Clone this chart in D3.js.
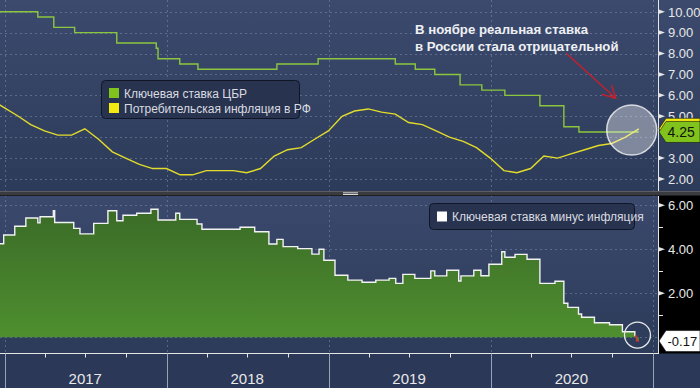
<!DOCTYPE html>
<html><head><meta charset="utf-8">
<script src="https://cdn.jsdelivr.net/npm/d3@7"></script>
<style>body{margin:0;background:#2b3858;overflow:hidden}svg{display:block}</style>
</head><body><svg id="c" width="700" height="388"></svg>
<script>
// ---------- DATA ----------
const keyRateDates = ["2016-12-20","2017-03-16","2017-04-21","2017-06-07","2017-09-10","2017-12-08","2017-12-12","2018-01-30","2018-03-12","2018-09-06","2018-12-08","2019-05-31","2019-07-15","2019-08-28","2019-10-24","2019-12-12","2020-02-02","2020-04-21","2020-06-14","2020-07-18"];
const keyRateValues = [10.00,9.75,9.25,9.00,8.50,8.25,7.75,7.50,7.25,7.50,7.75,7.50,7.25,7.00,6.50,6.25,6.00,5.50,4.50,4.25];
const seriesEnd = "2020-11-30";

const cpiMonths = ["2016-11","2016-12",
 "2017-01","2017-02","2017-03","2017-04","2017-05","2017-06","2017-07","2017-08","2017-09","2017-10","2017-11","2017-12",
 "2018-01","2018-02","2018-03","2018-04","2018-05","2018-06","2018-07","2018-08","2018-09","2018-10","2018-11","2018-12",
 "2019-01","2019-02","2019-03","2019-04","2019-05","2019-06","2019-07","2019-08","2019-09","2019-10","2019-11","2019-12",
 "2020-01","2020-02","2020-03","2020-04","2020-05","2020-06","2020-07","2020-08","2020-09","2020-10","2020-11"];
const cpiValues = [5.8,5.4,
 5.0,4.6,4.3,4.1,4.1,4.4,3.9,3.3,3.0,2.7,2.5,2.5,
 2.2,2.2,2.4,2.4,2.4,2.3,2.5,3.1,3.4,3.5,3.9,4.3,
 5.0,5.25,5.35,5.2,5.1,4.7,4.6,4.3,4.0,3.8,3.5,3.0,
 2.4,2.3,2.5,3.1,3.0,3.2,3.4,3.6,3.7,4.0,4.4];

const realDates = ["2016-12-20","2016-12-29","2017-01-23","2017-02-17","2017-03-16","2017-03-21","2017-04-20","2017-04-23","2017-06-05","2017-06-19","2017-07-20","2017-08-21","2017-09-10","2017-09-24","2017-10-25","2017-11-26","2017-12-12",
 "2018-01-21","2018-01-30","2018-03-10","2018-03-21","2018-06-15","2018-07-18","2018-08-19","2018-09-06","2018-09-20","2018-10-23","2018-11-24","2018-12-10","2018-12-21",
 "2019-01-15","2019-02-13","2019-03-17","2019-04-17","2019-05-17","2019-06-01","2019-06-17","2019-07-14","2019-08-19","2019-08-28","2019-09-24","2019-10-21","2019-10-26","2019-11-24","2019-12-10","2019-12-28",
 "2020-01-26","2020-02-02","2020-02-25","2020-03-23","2020-04-21","2020-05-25","2020-06-14","2020-06-23","2020-07-17","2020-07-24","2020-08-22","2020-09-25","2020-10-24","2020-11-21","2020-11-25"];
const realValues = [4.25,4.65,5.05,5.42,5.2,5.48,5.75,5.22,4.95,4.7,5.18,5.75,5.3,5.55,5.64,5.82,5.33,
 5.64,5.36,5.15,4.91,5.0,4.8,4.24,4.45,4.12,4.03,3.78,4.0,3.5,
 2.82,2.6,2.5,2.6,2.68,2.45,2.86,2.68,3.02,2.79,3.05,2.56,2.79,3.05,2.8,3.32,
 3.89,3.64,3.77,3.55,2.45,2.55,1.55,1.36,1.06,0.91,0.66,0.57,0.25,0.05,-0.17];

const yearLabels = ["2017","2018","2019","2020"];
const topTicks = [10,9,8,7,6,5,4,3,2];
const bottomTicks = [6,4,2];
const bottomMinor = [5,3,1];

const legendTop = ["Ключевая ставка ЦБР","Потребительская инфляция в РФ"];
const legendBottom = "Ключевая ставка минус инфляция";
const noteLines = ["В ноябре реальная ставка","в России стала отрицательной"];

// ---------- SETUP ----------
const parse = d3.utcParse("%Y-%m-%d");
const svg = d3.select("#c");
const W = 700, PR = 658;
const TOP0 = 0, TOP1 = 191, BOT0 = 196, BOT1 = 353.5;
const x = d3.scaleUtc().domain([parse("2017-01-01"), parse("2021-01-01")]).range([5, 653]);
const yTop = d3.scaleLinear().domain([2, 10]).range([179, 11.7]);
const yBot = d3.scaleLinear().domain([0, 6]).range([337.3, 205.3]);
const endDate = parse(seriesEnd);

const keyRate = keyRateDates.map((d,i)=>({d:parse(d), v:keyRateValues[i]}));
keyRate.push({d:endDate, v:keyRateValues[keyRateValues.length-1]});
const cpi = cpiMonths.map((m,i)=>({d:d3.utcDay.offset(d3.utcMonth.offset(parse(m+"-01"),1),-1), v:cpiValues[i]}));
const real = realDates.map((d,i)=>({d:parse(d), v:realValues[i]}));
real.push({d:endDate, v:realValues[realValues.length-1]});

const defs = svg.append("defs");
const g1 = defs.append("linearGradient").attr("id","bgTop").attr("x1",0).attr("y1",0).attr("x2",0).attr("y2",1);
g1.append("stop").attr("offset","0%").attr("stop-color","#3b4a6d");
g1.append("stop").attr("offset","100%").attr("stop-color","#2d3b5a");
const g2 = defs.append("linearGradient").attr("id","bgBot").attr("x1",0).attr("y1",0).attr("x2",0).attr("y2",1);
g2.append("stop").attr("offset","0%").attr("stop-color","#3a496c");
g2.append("stop").attr("offset","100%").attr("stop-color","#2d3b5a");
const g3 = defs.append("linearGradient").attr("id","greenFill").attr("gradientUnits","userSpaceOnUse")
  .attr("x1",0).attr("y1",yBot(6)).attr("x2",0).attr("y2",yBot(0));
g3.append("stop").attr("offset","0%").attr("stop-color","#3a6a27");
g3.append("stop").attr("offset","100%").attr("stop-color","#4f8f2f");
defs.append("clipPath").attr("id","clipTop").append("rect").attr("x",0).attr("y",TOP0).attr("width",PR).attr("height",TOP1-TOP0);
defs.append("clipPath").attr("id","clipBot").append("rect").attr("x",0).attr("y",BOT0).attr("width",PR).attr("height",BOT1-BOT0);

// backgrounds
svg.append("rect").attr("x",0).attr("y",0).attr("width",W).attr("height",388).attr("fill","#2b3858");
svg.append("rect").attr("x",0).attr("y",TOP0).attr("width",W).attr("height",TOP1-TOP0).attr("fill","url(#bgTop)");
svg.append("rect").attr("x",0).attr("y",BOT0).attr("width",PR).attr("height",BOT1-BOT0).attr("fill","url(#bgBot)");
svg.append("rect").attr("x",PR).attr("y",BOT0).attr("width",W-PR).attr("height",BOT1-BOT0).attr("fill","#000");
// separator
svg.append("rect").attr("x",0).attr("y",TOP1).attr("width",W).attr("height",BOT0-TOP1).attr("fill","#3a3b3e");
svg.append("line").attr("x1",0).attr("x2",W).attr("y1",TOP1+0.5).attr("y2",TOP1+0.5).attr("stroke","#5c5d60");
svg.append("line").attr("x1",0).attr("x2",W).attr("y1",BOT0-0.5).attr("y2",BOT0-0.5).attr("stroke","#1e1f22");
[192.8,194.5].forEach(yy=>svg.append("line").attr("x1",343).attr("x2",358).attr("y1",yy).attr("y2",yy).attr("stroke","#d8d8d8").attr("stroke-width",1));

// grid
const gridCol = "#7d8bab";
const years = [2017,2018,2019,2020,2021].map(y=>parse(y+"-01-01"));
const gTop = svg.append("g").attr("clip-path","url(#clipTop)");
const gBot = svg.append("g").attr("clip-path","url(#clipBot)");
gTop.selectAll(".hg").data(topTicks).join("line").attr("x1",0).attr("x2",PR)
  .attr("y1",d=>Math.round(yTop(d))+0.5).attr("y2",d=>Math.round(yTop(d))+0.5)
  .attr("stroke",gridCol).attr("stroke-opacity",0.55).attr("stroke-dasharray","2,3");
gBot.selectAll(".hg").data(bottomTicks.concat([0])).join("line").attr("x1",0).attr("x2",PR)
  .attr("y1",d=>Math.round(yBot(d))+0.5).attr("y2",d=>Math.round(yBot(d))+0.5)
  .attr("stroke",gridCol).attr("stroke-opacity",0.55).attr("stroke-dasharray","2,3");
[gTop,gBot].forEach(g=>g.selectAll(".vg").data(years).join("line")
  .attr("x1",d=>Math.round(x(d))+0.5).attr("x2",d=>Math.round(x(d))+0.5).attr("y1",0).attr("y2",388)
  .attr("stroke",gridCol).attr("stroke-opacity",0.55).attr("stroke-dasharray","2,3"));

// ---------- TOP PANEL ----------
gTop.append("path").datum(keyRate)
  .attr("d", d3.line().x(d=>x(d.d)).y(d=>yTop(d.v)).curve(d3.curveStepAfter))
  .attr("fill","none").attr("stroke","#8cc63e").attr("stroke-width",1.4);
gTop.append("path").datum(cpi)
  .attr("d", d3.line().x(d=>x(d.d)).y(d=>yTop(d.v)))
  .attr("fill","none").attr("stroke","#e3dc2a").attr("stroke-width",1.4);

// legend top
const lt = svg.append("g").attr("font-family","Liberation Sans, Arial, sans-serif").attr("font-size",12);
lt.append("rect").attr("x",101.5).attr("y",80.5).attr("width",198).attr("height",38).attr("rx",4)
  .attr("fill","#28334f").attr("stroke","#0e1628").attr("stroke-width",1);
const ltCols = ["#7fc31c","#f3ea11"];
legendTop.forEach((t,i)=>{
  lt.append("rect").attr("x",109).attr("y",88+i*15).attr("width",10).attr("height",10).attr("fill",ltCols[i]);
  lt.append("text").attr("x",124).attr("y",97.5+i*15).attr("fill","#d9dbe0").text(t);
});

// annotation
const note = svg.append("g").attr("font-family","Liberation Sans, Arial, sans-serif").attr("font-size",13.2).attr("font-weight","bold").attr("fill","#eef0f4");
noteLines.forEach((t,i)=>note.append("text").attr("x",415).attr("y",34+i*16.5).text(t));
const ax0 = x(parse("2020-06-20")), ay0 = yTop(8.0), ax1 = x(parse("2020-10-09")), ay1 = yTop(5.86);
const arr = svg.append("g").attr("stroke","#c3202e").attr("stroke-width",1.5).attr("fill","none");
arr.append("line").attr("x1",ax0).attr("y1",ay0).attr("x2",ax1).attr("y2",ay1);
arr.append("path").attr("d",`M${ax1-14},${ay1-4}L${ax1},${ay1}L${ax1-4},${ay1-13}`);

// highlight circle top
svg.append("circle").attr("cx",x(parse("2020-11-14"))).attr("cy",yTop(4.34)).attr("r",25)
  .attr("fill","#ffffff").attr("fill-opacity",0.38).attr("stroke","#ffffff").attr("stroke-opacity",0.75).attr("stroke-width",1.5);

// ---------- BOTTOM PANEL ----------
gBot.append("path").datum(real)
  .attr("d", d3.area().x(d=>x(d.d)).y0(yBot(0)).y1(d=>yBot(d.v)).curve(d3.curveStepAfter))
  .attr("fill","url(#greenFill)");
gBot.append("path").datum(real.slice(0,real.length-2))
  .attr("d", d3.line().x(d=>x(d.d)).y(d=>yBot(d.v)).curve(d3.curveStepAfter))
  .attr("fill","none").attr("stroke","#f2f2f2").attr("stroke-width",1.4);
gBot.append("path").datum(real.slice(real.length-3))
  .attr("d", d3.line().x(d=>x(d.d)).y(d=>yBot(d.v)).curve(d3.curveStepAfter))
  .attr("fill","none").attr("stroke","#d0303a").attr("stroke-width",1.4);

// legend bottom
const lb = svg.append("g").attr("font-family","Liberation Sans, Arial, sans-serif").attr("font-size",12);
lb.append("rect").attr("x",429.5).attr("y",203.5).attr("width",205).attr("height",26).attr("rx",4)
  .attr("fill","#28334f").attr("stroke","#0e1628").attr("stroke-width",1);
lb.append("rect").attr("x",437).attr("y",211.5).attr("width",10).attr("height",10).attr("fill","#ffffff");
lb.append("text").attr("x",452).attr("y",221).attr("fill","#d9dbe0").text(legendBottom);

svg.append("circle").attr("cx",x(parse("2020-11-27"))).attr("cy",yBot(0.1)).attr("r",13)
  .attr("fill","none").attr("stroke","#e8e8e8").attr("stroke-width",1.3);

// ---------- AXES ----------
const axCol = "#e6e6e6";
svg.append("line").attr("x1",PR+0.5).attr("x2",PR+0.5).attr("y1",0).attr("y2",TOP1).attr("stroke",axCol);
svg.append("line").attr("x1",PR+0.5).attr("x2",PR+0.5).attr("y1",BOT0).attr("y2",BOT1).attr("stroke",axCol);
svg.append("line").attr("x1",0).attr("x2",PR+1).attr("y1",BOT1).attr("y2",BOT1).attr("stroke",axCol);

const fmt = v => d3.format(".2f")(v).replace("\u2212","-");
const axFont = "Liberation Sans, Arial, sans-serif";
function yTicks(scale, vals, minor){
  const g = svg.append("g");
  g.selectAll("path.t").data(vals).join("path")
    .attr("d",d=>{const yy=scale(d);return `M${PR},${yy-2.5}L${PR+7},${yy}L${PR},${yy+2.5}Z`;}).attr("fill",axCol);
  g.selectAll("text").data(vals).join("text").attr("x",PR+10).attr("y",d=>scale(d)+4.8)
    .attr("font-family",axFont).attr("font-size",13).attr("fill","#e8e8e8").text(fmt);
  if(minor) g.selectAll("line.m").data(minor).join("line").attr("x1",PR).attr("x2",PR+5)
    .attr("y1",d=>Math.round(scale(d))+0.5).attr("y2",d=>Math.round(scale(d))+0.5).attr("stroke",axCol);
}
yTicks(yTop, topTicks.filter(d=>d!==4));
yTicks(yBot, bottomTicks, bottomMinor);

// value labels
function valueLabel(yc, fill, txt, size){
  const g = svg.append("g");
  g.append("path").attr("d",`M${PR+1},${yc}L${PR+8},${yc-10.5}L${W},${yc-10.5}L${W},${yc+10.5}L${PR+8},${yc+10.5}Z`)
    .attr("fill",fill).attr("stroke","#111").attr("stroke-width",0.6);
  if(txt) g.append("text").attr("x",PR+9.5).attr("y",yc+5).attr("font-family",axFont).attr("font-size",size||14)
    .attr("fill","#111").text(txt);
}
valueLabel(yTop(cpiValues[cpiValues.length-1]), "#f3ea11", null);
valueLabel(yTop(keyRateValues[keyRateValues.length-1]), "#7fc31c", fmt(keyRateValues[keyRateValues.length-1]));
valueLabel(yBot(realValues[realValues.length-1]), "#ffffff", fmt(realValues[realValues.length-1]), 13);

// x axis
const xa = svg.append("g");
xa.selectAll("line.y").data(years).join("line")
  .attr("x1",d=>Math.round(x(d))+0.5).attr("x2",d=>Math.round(x(d))+0.5).attr("y1",BOT1).attr("y2",388)
  .attr("stroke","#9aa3b5").attr("stroke-width",1);
const quarters = d3.utcMonth.every(3).range(parse("2017-01-01"), parse("2021-01-01")).filter(d=>d.getUTCMonth()!==0);
xa.selectAll("line.q").data(quarters).join("line")
  .attr("x1",d=>Math.round(x(d))+0.5).attr("x2",d=>Math.round(x(d))+0.5).attr("y1",BOT1).attr("y2",BOT1+4)
  .attr("stroke",axCol);
xa.selectAll("text").data(yearLabels).join("text")
  .attr("x",d=>x(d3.utcMonth.offset(parse(d+"-01-01"),6))).attr("y",384)
  .attr("text-anchor","middle").attr("font-family","Liberation Sans Narrow, Liberation Sans, Arial, sans-serif")
  .attr("font-size",15).attr("fill","#e8e8e8").text(d=>d);
</script></body></html>
